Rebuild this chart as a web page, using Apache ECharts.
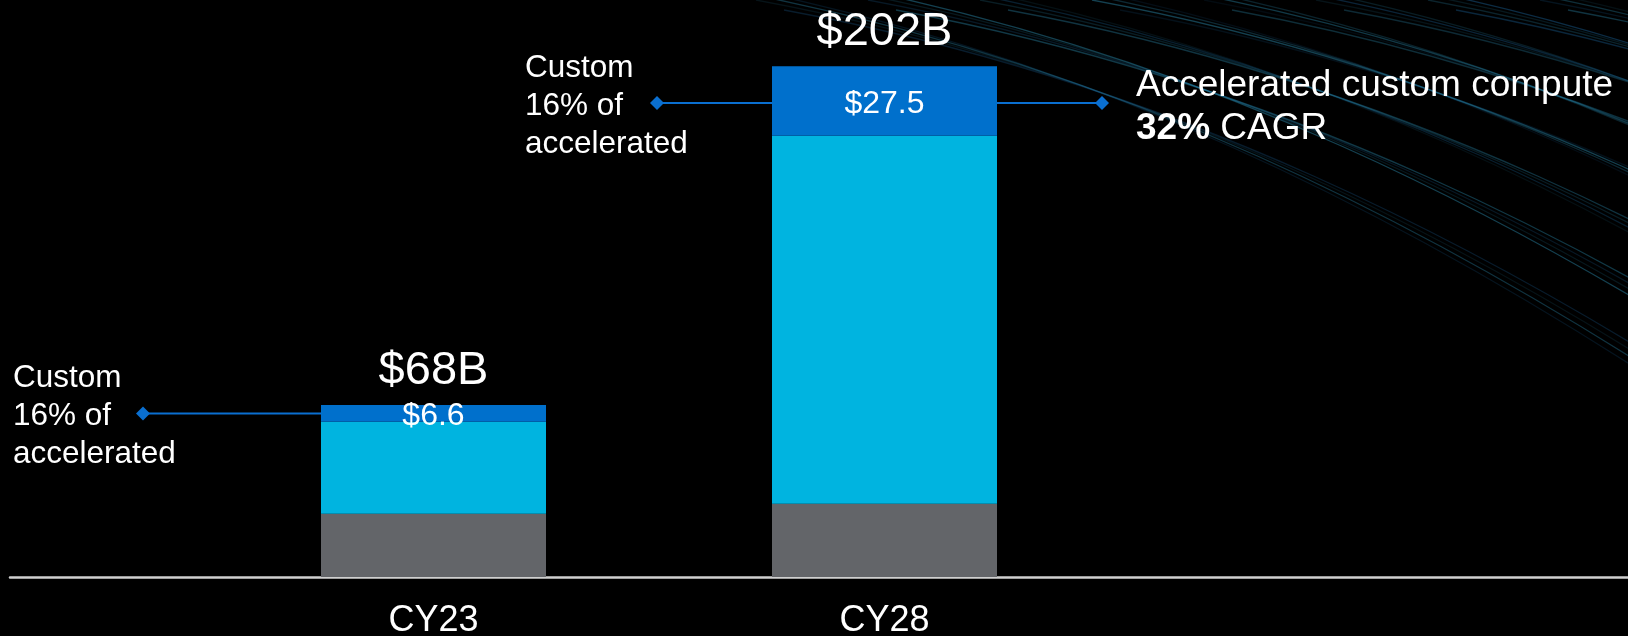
<!DOCTYPE html>
<html>
<head>
<meta charset="utf-8">
<script src="https://cdn.jsdelivr.net/npm/echarts@6/dist/echarts.min.js"></script>
<style>
  html, body { margin: 0; padding: 0; background: #000; }
  #chart { width: 1628px; height: 636px; }
</style>
</head>
<body>
<div id="chart"></div>
<script>
  // data ($B)
  var years = ['CY23', 'CY28'];
  var otherCompute = [25, 29];
  var merchantAccel = [36.4, 145.5];
  var customAccel = [6.6, 27.5];
  var totals = [68, 202];
  var totalLabels = ['$68B', '$202B'];
  var customLabels = ['$6.6', '$27.5'];

  var FONT = '"Liberation Sans", Arial, sans-serif';
  var BAR_W = 225;
  var chart = echarts.init(document.getElementById('chart'));

  chart.setOption({
    backgroundColor: '#000',
    animation: false,
    textStyle: { fontFamily: FONT },
    grid: [
      { left: 208, width: 902, top: 46, bottom: 59, outerBoundsMode: 'none' },
      // full width grid only for the long baseline
      { left: 10, right: 0, top: 46, bottom: 59, outerBoundsMode: 'none' }
    ],
    xAxis: [{
      type: 'category',
      data: years,
      axisLine: { show: false },
      axisTick: { show: false },
      axisLabel: { color: '#fff', fontSize: 36, margin: 26, fontFamily: FONT }
    }, {
      type: 'value', gridIndex: 1, min: 0, max: 1,
      axisLine: { show: true, lineStyle: { color: '#d0d0d0', width: 2.5 } },
      axisTick: { show: false },
      axisLabel: { show: false },
      splitLine: { show: false }
    }],
    yAxis: [
      { type: 'value', min: 0, max: 210, show: false },
      { type: 'value', gridIndex: 1, show: false }
    ],
    series: [{
      name: 'Other', type: 'bar', stack: 'a', barWidth: BAR_W, barGap: '-100%',
      data: otherCompute,
      itemStyle: { color: '#636569' }
    }, {
      name: 'Merchant', type: 'bar', stack: 'a', barWidth: BAR_W, barGap: '-100%',
      data: merchantAccel,
      itemStyle: { color: '#00b4e0' }
    }, {
      name: 'Custom', type: 'bar', stack: 'a', barWidth: BAR_W, barGap: '-100%',
      data: customAccel,
      itemStyle: { color: '#0070cc' },
      label: {
        show: true, position: 'inside', offset: [0, 3], color: '#fff', fontSize: 32, fontFamily: FONT,
        formatter: function (p) { return customLabels[p.dataIndex]; }
      }
    }, {
      name: 'Total', type: 'bar', barWidth: BAR_W, barGap: '-100%', silent: true, z: 1,
      data: totals,
      itemStyle: { color: 'rgba(0,0,0,0)' },
      label: {
        show: true, position: 'top', distance: 11, color: '#fff', fontSize: 47, fontFamily: FONT,
        formatter: function (p) { return totalLabels[p.dataIndex]; }
      }
    }]
  });

  // annotations hang off the middle of the custom segments
  function segMid(i) {
    var v = otherCompute[i] + merchantAccel[i] + customAccel[i] / 2;
    return chart.convertToPixel({ gridIndex: 0 }, [i, v]);
  }
  var p0 = segMid(0), p1 = segMid(1);
  var y0 = p0[1], y1 = p1[1] + 2;
  var blue = '#0a6fd0';

  function diamond(x, y) {
    return { type: 'polygon', z: 20, shape: { points: [[x, y - 7], [x + 7, y], [x, y + 7], [x - 7, y]] }, style: { fill: blue } };
  }
  function conn(xa, xb, y) {
    return { type: 'line', z: 20, shape: { x1: xa, y1: y, x2: xb, y2: y }, style: { stroke: blue, lineWidth: 2 } };
  }
  function note(x, y) {
    return {
      type: 'text', z: 20, x: x, y: y + 3,
      style: { text: 'Custom\n16% of\naccelerated', fill: '#fff', font: '31.5px ' + FONT, lineHeight: 38, verticalAlign: 'middle' }
    };
  }

  // background light streaks (decoration only)
  var streaks = [];
  var alphas = [0.18, 0.32, 0.12, 0.26, 0.4, 0.15, 0.22, 0.35, 0.1, 0.28];
  for (var i = 0; i < 34; i++) {
    var x1 = 700 + i * 28, yy = -20 + (i % 4) * 10;
    var a = alphas[i % alphas.length];
    streaks.push({
      type: 'bezierCurve', z: -5, silent: true,
      shape: { x1: x1, y1: yy, cpx1: x1 + 380, cpy1: yy + 70, cpx2: x1 + 700, cpy2: yy + 230, x2: x1 + 1000, y2: yy + 430 },
      style: { stroke: i % 3 ? 'rgba(50,160,200,' + a + ')' : 'rgba(30,110,170,' + a + ')', lineWidth: 1.3, fill: null }
    });
  }

  chart.setOption({
    graphic: streaks.concat([
      conn(143, p0[0] - BAR_W / 2, y0), diamond(143, y0), note(13, y0),
      conn(657, p1[0] - BAR_W / 2, y1), diamond(657, y1), note(525, y1),
      conn(p1[0] + BAR_W / 2, 1102, y1), diamond(1102, y1),
      {
        type: 'text', z: 20, x: 1136, y: y1 + 4,
        style: {
          text: 'Accelerated custom compute\n{b|32%} CAGR',
          fill: '#fff', font: '37px ' + FONT, lineHeight: 43, verticalAlign: 'middle',
          rich: { b: { fontWeight: 'bold', fontSize: 37, fontFamily: FONT, fill: '#fff', lineHeight: 43 } }
        }
      }
    ])
  });
</script>
</body>
</html>
